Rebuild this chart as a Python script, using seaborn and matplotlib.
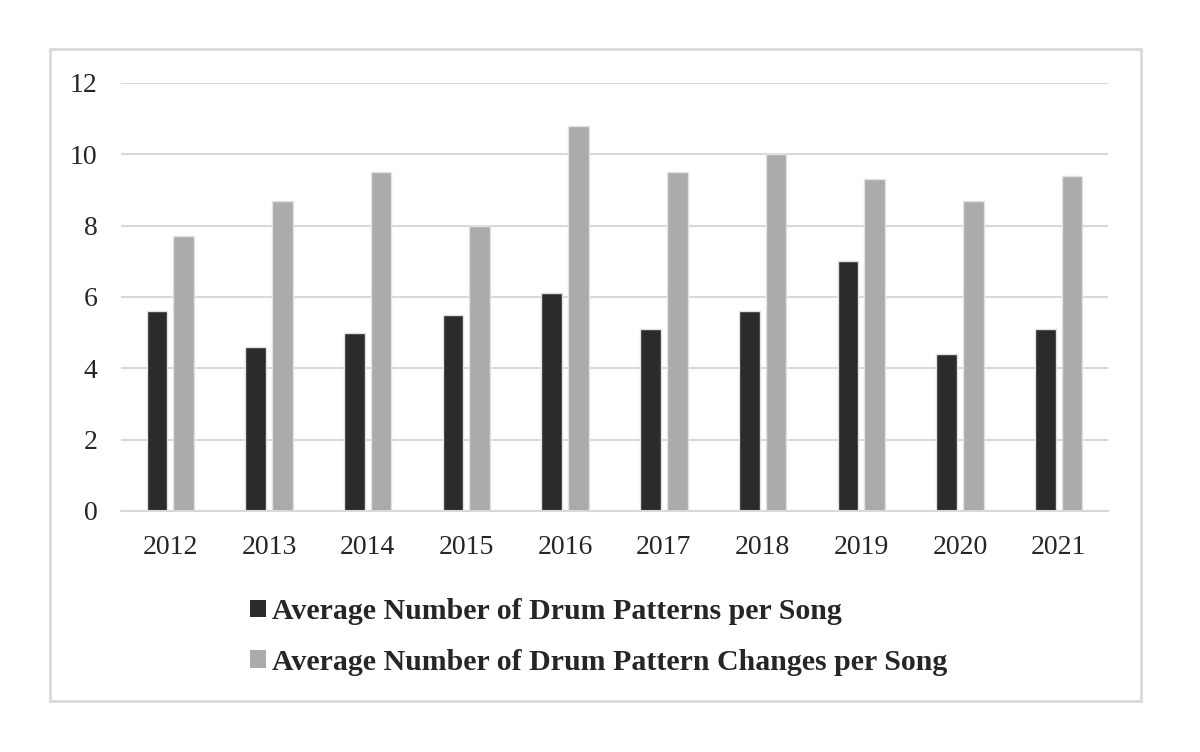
import matplotlib
matplotlib.use("Agg")
import matplotlib.pyplot as plt
from matplotlib.patches import Rectangle
import seaborn as sns
import pandas as pd

years = ["2012", "2013", "2014", "2015", "2016", "2017", "2018", "2019", "2020", "2021"]
patterns = [5.6, 4.6, 5.0, 5.5, 6.1, 5.1, 5.6, 7.0, 4.4, 5.1]
changes = [7.7, 8.7, 9.5, 8.0, 10.8, 9.5, 10.0, 9.3, 8.7, 9.4]
series_names = ["Average Number of Drum Patterns per Song",
                "Average Number of Drum Pattern Changes per Song"]
series_colors = ["#2b2b2b", "#acabac"]
y_ticks = [0, 2, 4, 6, 8, 10, 12]

df = pd.DataFrame({
    "Year": years * 2,
    "Value": patterns + changes,
    "Series": [series_names[0]] * len(years) + [series_names[1]] * len(years),
})

sns.set_style("white")
plt.rcParams["font.family"] = ["Liberation Serif", "DejaVu Serif"]

W, H = 1200, 752
fig = plt.figure(figsize=(12, 7.52), dpi=100)
ax = fig.add_axes([121 / W, (H - 511) / H, (1108 - 121) / W, (511 - 83) / H])

sns.barplot(data=df, x="Year", y="Value", hue="Series", hue_order=series_names,
            palette=series_colors, width=0.54, gap=0.225, edgecolor="#e2e2e2",
            linewidth=1, saturation=1, ax=ax, errorbar=None)

ax.set_ylim(0, 12)
ax.set_yticks(y_ticks)
ax.set_yticklabels([str(t) for t in y_ticks])
ax.set_xlabel("")
ax.set_ylabel("")
ax.yaxis.grid(True, color="#d9d9d9", linewidth=1.5)
ax.set_axisbelow(True)
for s in ["left", "right", "top"]:
    ax.spines[s].set_visible(False)
ax.spines["bottom"].set_color("#d9d9d9")
ax.spines["bottom"].set_linewidth(1.5)
ax.tick_params(axis="both", length=0, labelsize=20, colors="#262626")
ax.tick_params(axis="y", pad=17)
ax.tick_params(axis="x", pad=17)

handles, labels = ax.get_legend_handles_labels()
if ax.legend_:
    ax.legend_.remove()
leg = fig.legend(handles, labels, loc="upper left",
                 bbox_to_anchor=(223 / W, (H - 571) / H),
                 frameon=False, handlelength=0.525, handleheight=0.525,
                 handletextpad=0.2, labelspacing=0.8,
                 prop={"family": ["Liberation Serif"], "weight": "bold", "size": 21.5})
for h in leg.legend_handles:
    h.set_edgecolor("none")

fig.patches.append(Rectangle((50 / W, (H - 701) / H), 1091 / W, 652 / H,
                             transform=fig.transFigure, fill=False,
                             edgecolor="#d9d9d9", linewidth=2))

fig.savefig("out.png", dpi=100, facecolor="white")
